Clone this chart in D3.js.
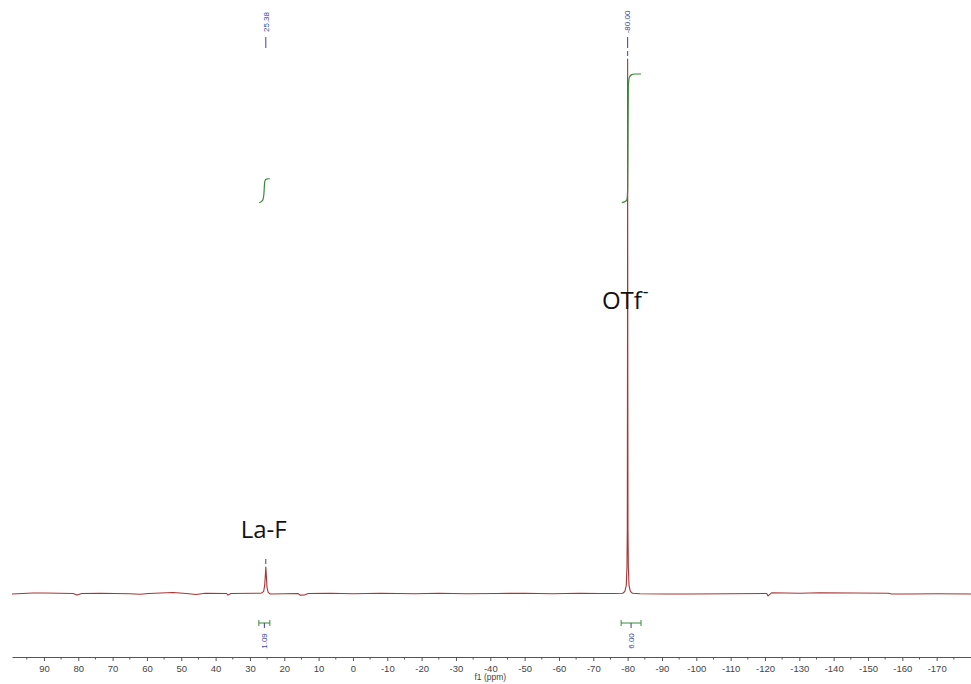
<!DOCTYPE html>
<html>
<head>
<meta charset="utf-8">
<script src="https://cdn.jsdelivr.net/npm/d3@7"></script>
<style>
    html, body { margin: 0; padding: 0; background: #fff; }
    svg { display: block; }
</style>
</head>
<body>
<div id="chart"></div>
<script>
const dim = {
    width: 971,
    height: 684
}

// spectrum: chemical shift (ppm) and intensity (OTf peak = 100)
const spectrumPpm = [99.3, 93.2, 89.7, 81.5, 80.4, 79.0, 73.7, 65.0, 62.0, 59.5, 52.4, 48.5, 45.7, 43.0, 36.8, 36.4, 35.5,
    27.1, 26.6, 26.0, 25.7, 25.5, 25.38, 25.25, 25.05, 24.7, 24.1,
    16.0, 15.4, 14.0, 13.0, 6.7, 0.0, -8.0, -18.0, -25.0, -33.0, -42.0, -50.0, -58.0, -66.0, -72.0, -76.0,
    -78.6, -79.2, -79.6, -79.8, -79.9, -79.96, -80.0, -80.04, -80.1, -80.2, -80.4, -80.8, -81.4,
    -83.6, -90.9, -98.2, -109.8, -120.5, -120.9, -122.0, -130.2, -136.0, -156.0, -156.8, -162.2, -170.0, -180.0]
const spectrumInt = [-0.1, 0.1, 0.1, 0.0, -0.3, 0.0, 0.05, -0.05, -0.15, 0.0, 0.2, 0.0, -0.2, 0.05, 0.0, -0.3, 0.0,
    0.05, 0.1, 0.4, 1.6, 3.6, 4.95, 3.6, 1.2, 0.2, -0.1,
    0.0, -0.3, -0.25, 0.0, 0.05, -0.05, 0.05, -0.05, 0.05, -0.05, 0.0, 0.05, -0.05, 0.05, 0.0, 0.0,
    0.05, 0.4, 1.5, 5, 12, 45, 100, 45, 12, 5, 1.5, 0.4, 0.05,
    -0.05, -0.1, -0.1, -0.05, 0.0, -0.45, 0.15, 0.05, 0.15, 0.05, -0.1, -0.1, -0.05, -0.1]

// picked peaks
const peakPpm = [25.38, -80.00]
const peakLabels = ['25.38', '-80.00']

// integrals: ranges (ppm), values, and the drawn integral curves
const integralRanges = [[27.4, 24.2], [-78.1, -83.9]]
const integralValues = ['1.09', '6.00']
const integralCurveLaF = [[27.3, -0.03], [26.6, 0.03], [26.2, 0.12], [25.95, 0.35], [25.85, 0.6], [25.75, 0.88], [25.55, 1.02], [25.2, 1.07], [24.6, 1.09], [24.2, 1.09]]
const integralCurveOTf = [[-78.3, -0.03], [-79.3, 0.02], [-79.8, 0.12], [-80.0, 0.6], [-80.1, 3.0], [-80.2, 5.4], [-80.5, 5.85], [-81.2, 5.97], [-82.0, 6.0], [-83.9, 6.0]]

// axis ticks
const majorTicks = d3.range(90, -171, -10)
const minorTicks = d3.range(95, -176, -5).filter(d => d % 10 !== 0)

// annotations
const annotations = [
    { text: 'La-F', ppm: 32.7, y: 538, sup: '' },
    { text: 'OTf', ppm: -72.5, y: 309, sup: '-' }
]

const svg = d3.select('#chart')
    .append('svg')
        .attr('width', dim.width)
        .attr('height', dim.height)

// scales
const xScale = d3.scaleLinear()
    .domain([99.3, -180])
    .range([12, 971])

const yScale = d3.scaleLinear()
    .domain([0, 100])
    .range([593.5, 59])

const integralScale = d3.scaleLinear()
    .domain([0, 6])
    .range([202, 74])

// axis
const axisY = 657
const axis = svg.append('g')
    .attr('transform', `translate(0, ${axisY})`)
    .call(d3.axisBottom(xScale)
        .tickValues(majorTicks)
        .tickSize(4)
        .tickSizeOuter(0)
        .tickFormat(d => String(d)))

axis.select('.domain').attr('stroke', '#555')
axis.selectAll('.tick line').attr('stroke', '#555')
axis.selectAll('.tick text')
    .attr('y', 8)
    .attr('fill', '#444')
    .attr('font-family', 'Liberation Sans, Arial, sans-serif')
    .attr('font-size', 9.5)

svg.append('g')
    .selectAll('line')
    .data(minorTicks)
    .join('line')
        .attr('x1', d => xScale(d))
        .attr('x2', d => xScale(d))
        .attr('y1', axisY)
        .attr('y2', axisY + 2.5)
        .attr('stroke', '#555')

svg.append('text')
    .attr('x', xScale(-40))
    .attr('y', 680)
    .attr('text-anchor', 'middle')
    .attr('fill', '#444')
    .attr('font-family', 'Liberation Sans, Arial, sans-serif')
    .attr('font-size', 8.5)
    .text('f1 (ppm)')

// spectrum
const spectrum = spectrumPpm.map((p, i) => [p, spectrumInt[i]])
svg.append('path')
    .datum(spectrum)
    .attr('fill', 'none')
    .attr('stroke', '#a83535')
    .attr('stroke-width', 1.1)
    .attr('stroke-linejoin', 'round')
    .attr('d', d3.line()
        .x(d => xScale(d[0]))
        .y(d => yScale(d[1])))

// integral curves
const integralLine = d3.line()
    .x(d => xScale(d[0]))
    .y(d => integralScale(d[1]))
    .curve(d3.curveMonotoneX)

svg.append('g')
    .selectAll('path')
    .data([integralCurveLaF, integralCurveOTf])
    .join('path')
        .attr('fill', 'none')
        .attr('stroke', '#3a8a3a')
        .attr('stroke-width', 1.2)
        .attr('d', integralLine)

// peak labels at the top
const blue = '#3b3f9e'
const peaks = svg.append('g')
peaks.selectAll('text')
    .data(peakPpm)
    .join('text')
        .attr('transform', d => `translate(${xScale(d) + 2.8}, 22) rotate(-90)`)
        .attr('text-anchor', 'middle')
        .attr('fill', blue)
        .attr('font-family', 'Liberation Sans, Arial, sans-serif')
        .attr('font-size', 8)
        .text((d, i) => peakLabels[i])

peaks.selectAll('line')
    .data(peakPpm)
    .join('line')
        .attr('x1', d => xScale(d))
        .attr('x2', d => xScale(d))
        .attr('y1', 37)
        .attr('y2', 48)
        .attr('stroke', blue)
        .attr('stroke-width', 1)

// short marker just above each peak top
peaks.selectAll('line.mark')
    .data(peakPpm)
    .join('line')
        .attr('class', 'mark')
        .attr('x1', d => xScale(d))
        .attr('x2', d => xScale(d))
        .attr('y1', d => yScale(spectrumInt[spectrumPpm.indexOf(d)]) - 8)
        .attr('y2', d => yScale(spectrumInt[spectrumPpm.indexOf(d)]) - 3)
        .attr('stroke', blue)
        .attr('stroke-width', 1)

// integral bars below the spectrum
const bars = svg.append('g')
const barY = 623
bars.selectAll('g')
    .data(integralRanges)
    .join('g')
    .each(function(d, i) {
        const g = d3.select(this)
        const x0 = xScale(d[0])
        const x1 = xScale(d[1])
        const xm = (x0 + x1) / 2
        g.append('line')
            .attr('x1', x0).attr('x2', x1)
            .attr('y1', barY).attr('y2', barY)
            .attr('stroke', '#3a8a3a')
        g.selectAll('line.cap')
            .data([x0, x1])
            .join('line')
                .attr('class', 'cap')
                .attr('x1', x => x).attr('x2', x => x)
                .attr('y1', barY - 3).attr('y2', barY + 3)
                .attr('stroke', '#3a8a3a')
        g.append('line')
            .attr('x1', xm).attr('x2', xm)
            .attr('y1', barY).attr('y2', barY + 5)
            .attr('stroke', blue)
        g.append('text')
            .attr('transform', `translate(${xm + 2.8}, 641) rotate(-90)`)
            .attr('text-anchor', 'middle')
            .attr('fill', blue)
            .attr('font-family', 'Liberation Sans, Arial, sans-serif')
            .attr('font-size', 8)
            .text(integralValues[i])
    })

// annotations
const notes = svg.append('g')
    .selectAll('text')
    .data(annotations)
    .join('text')
        .attr('x', d => xScale(d.ppm))
        .attr('y', d => d.y)
        .attr('fill', '#111')
        .attr('font-family', 'Open Sans, sans-serif')
        .attr('font-size', 24)
        .text(d => d.text)

notes.append('tspan')
    .attr('dy', -11)
    .attr('dx', 1)
    .attr('font-size', 18)
    .text(d => d.sup)
</script>
</body>
</html>
